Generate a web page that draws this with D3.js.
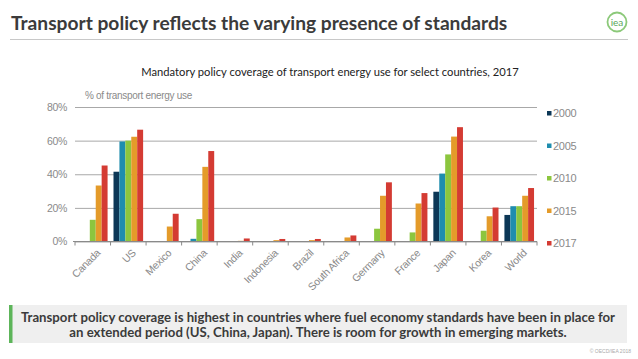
<!DOCTYPE html>
<html>
<head>
<meta charset="utf-8">
<script src="https://cdn.jsdelivr.net/npm/d3@7"></script>
<style>
  body { margin: 0; background: #fff; }
  svg { display: block; }
</style>
</head>
<body>
<svg id="chart" width="638" height="359"></svg>
<script>
// chart data
const countries = ["Canada", "US", "Mexico", "China", "India", "Indonesia", "Brazil",
    "South Africa", "Germany", "France", "Japan", "Korea", "World"];
const years = ["2000", "2005", "2010", "2015", "2017"];
const share2000 = [0, 41.5, 0, 0, 0, 0, 0, 0, 0, 0, 29.6, 0, 15.8];
const share2005 = [0, 59.5, 0, 1.6, 0, 0, 0, 0, 0, 0, 40.4, 0, 21];
const share2010 = [12.9, 60, 0, 13.3, 0, 0, 0, 0, 7.6, 5.4, 51.8, 6.4, 21];
const share2015 = [33.3, 62.3, 8.9, 44.4, 0.4, 0.8, 0.8, 2.4, 27.2, 22.6, 62.4, 15, 27.2];
const share2017 = [45.2, 66.5, 16.5, 53.8, 1.8, 1.5, 1.5, 3.6, 35.2, 28.8, 68, 20.2, 31.8];
const yTicks = [0, 20, 40, 60, 80];
const colors = ["#0c3756", "#1f8dae", "#8cc63e", "#e49b2a", "#d43b33"];

const series = [share2000, share2005, share2010, share2015, share2017];
const rows = countries.map((c, i) => ({ country: c, values: series.map((s) => s[i]) }));

const svg = d3.select("#chart");
const axisFont = "Liberation Sans";
const axisGrey = "#8a8a8a";

// header
svg.append("text")
    .attr("x", 11)
    .attr("y", 30)
    .attr("font-family", "Lato")
    .attr("font-weight", "bold")
    .attr("font-size", 19.2)
    .attr("fill", "#3b3b3b")
    .text("Transport policy reflects the varying presence of standards");

svg.append("line")
    .attr("x1", 10).attr("x2", 628)
    .attr("y1", 39.5).attr("y2", 39.5)
    .attr("stroke", "#c8c8c8")
    .attr("stroke-width", 1);

const logo = svg.append("g").attr("transform", "translate(617,22)");
logo.append("circle")
    .attr("r", 9.5)
    .attr("fill", "#fff")
    .attr("stroke", "#8cc97a")
    .attr("stroke-width", 1.8);
logo.append("text")
    .attr("y", 3.5)
    .attr("text-anchor", "middle")
    .attr("font-family", "Lato")
    .attr("font-size", 10)
    .attr("fill", "#5aa85a")
    .text("iea");

// chart titles
svg.append("text")
    .attr("x", 330)
    .attr("y", 76)
    .attr("text-anchor", "middle")
    .attr("font-family", "Lato")
    .attr("font-size", 11.2)
    .attr("fill", "#222")
    .text("Mandatory policy coverage of transport energy use for select countries, 2017");

svg.append("text")
    .attr("x", 85)
    .attr("y", 99)
    .attr("font-family", axisFont)
    .attr("font-size", 10)
    .attr("letter-spacing", -0.3)
    .attr("fill", axisGrey)
    .text("% of transport energy use");

// scales
const x0 = d3.scaleBand().domain(countries).range([75, 537]);
const x1 = d3.scaleBand().domain(years).range([0, x0.bandwidth()]).paddingOuter(0.5);
const y = d3.scaleLinear().domain([0, 80]).range([241.5, 107]);
const color = d3.scaleOrdinal().domain(years).range(colors);

// gridlines + y labels
const yAxis = svg.append("g")
    .attr("transform", "translate(75,0)")
    .call(d3.axisLeft(y).tickValues(yTicks).tickFormat((d) => d + "%")
        .tickSize(-462).tickPadding(8));
yAxis.select(".domain").remove();
yAxis.selectAll(".tick line").attr("stroke", "#a8a8a8");
yAxis.selectAll(".tick text")
    .attr("font-family", axisFont)
    .attr("font-size", 10.5)
    .attr("letter-spacing", -0.3)
    .attr("fill", axisGrey);

// bars
const group = svg.append("g")
    .selectAll("g")
    .data(rows)
    .enter()
    .append("g")
    .attr("transform", (d) => `translate(${x0(d.country)},0)`);

group.selectAll("rect")
    .data((d) => d.values.map((v, i) => ({ year: years[i], value: v })))
    .enter()
    .append("rect")
    .attr("x", (d) => x1(d.year))
    .attr("width", x1.bandwidth())
    .attr("y", (d) => y(d.value))
    .attr("height", (d) => y(0) - y(d.value))
    .attr("fill", (d) => color(d.year));

// x axis with ticks at category boundaries
const xAxis = svg.append("g").attr("transform", `translate(0,${y(0)})`);
xAxis.append("line")
    .attr("x1", 73).attr("x2", 537)
    .attr("stroke", axisGrey);
xAxis.selectAll(".sep")
    .data(countries.concat([null]))
    .enter()
    .append("line")
    .attr("class", "sep")
    .attr("x1", (d, i) => 75 + i * x0.step())
    .attr("x2", (d, i) => 75 + i * x0.step())
    .attr("y1", 0).attr("y2", 4)
    .attr("stroke", axisGrey);
xAxis.selectAll(".lbl")
    .data(countries)
    .enter()
    .append("text")
    .attr("class", "lbl")
    .attr("transform", (d) => `translate(${x0(d) + x0.bandwidth() / 2 + 3},${7}) rotate(-45)`)
    .attr("text-anchor", "end")
    .attr("dy", "0.7em")
    .attr("font-family", axisFont)
    .attr("font-size", 10.5)
    .attr("letter-spacing", -0.3)
    .attr("fill", axisGrey)
    .text((d) => d);

// legend
const legend = svg.append("g")
    .selectAll("g")
    .data(years)
    .enter()
    .append("g")
    .attr("transform", (d, i) => `translate(547,${111 + i * 32.5})`);
legend.append("rect")
    .attr("width", 4.5)
    .attr("height", 4.5)
    .attr("fill", (d) => color(d));
legend.append("text")
    .attr("x", 6)
    .attr("y", 6)
    .attr("font-family", axisFont)
    .attr("font-size", 11)
    .attr("letter-spacing", -0.3)
    .attr("fill", axisGrey)
    .text((d) => d);

// key message box
svg.append("rect")
    .attr("x", 9).attr("y", 305)
    .attr("width", 618).attr("height", 38)
    .attr("fill", "#efefef");
svg.append("rect")
    .attr("x", 9).attr("y", 305)
    .attr("width", 3.5).attr("height", 38)
    .attr("fill", "#5db55a");

const msg = [
    "Transport policy coverage is highest in countries where fuel economy standards have been in place for",
    "an extended period (US, China, Japan). There is room for growth in emerging markets."
];
svg.selectAll(".msg")
    .data(msg)
    .enter()
    .append("text")
    .attr("class", "msg")
    .attr("x", 318)
    .attr("y", (d, i) => 321.5 + i * 15)
    .attr("text-anchor", "middle")
    .attr("font-family", "Lato")
    .attr("font-weight", "bold")
    .attr("font-size", 13.2)
    .attr("fill", "#3b3b3b")
    .text((d) => d);

svg.append("text")
    .attr("x", 631)
    .attr("y", 353)
    .attr("text-anchor", "end")
    .attr("font-family", "Liberation Sans")
    .attr("font-size", 5)
    .attr("fill", "#aaa")
    .text("© OECD/IEA 2018");
</script>
</body>
</html>
